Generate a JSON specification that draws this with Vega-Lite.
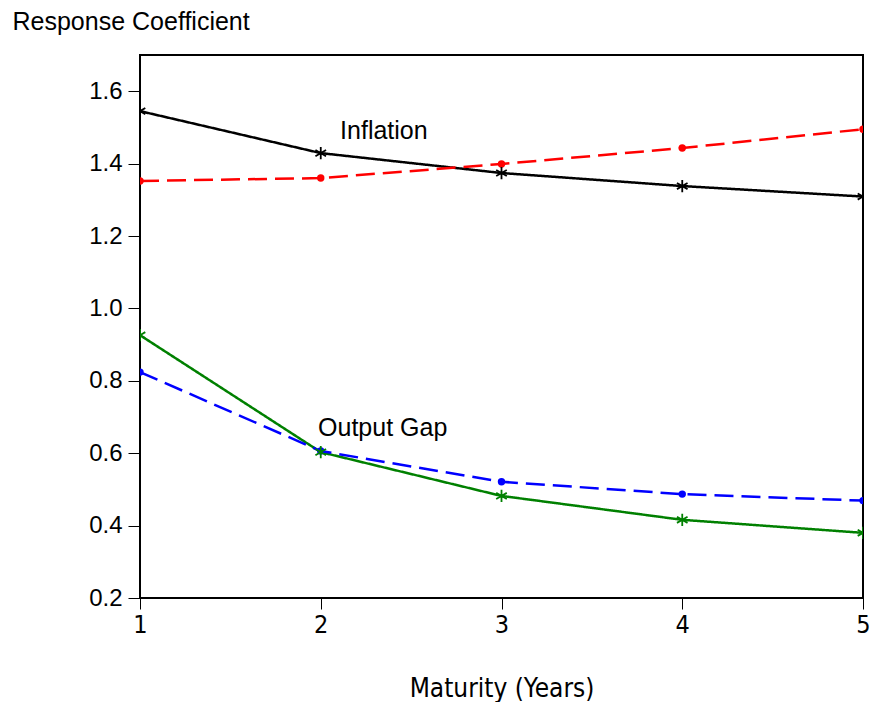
{
  "$schema": "https://vega.github.io/schema/vega-lite/v6.json",
  "width": 723,
  "height": 543,
  "autosize": {"type": "none"},
  "padding": {"left": 140, "top": 55, "right": 9, "bottom": 104},
  "background": "white",
  "config": {
    "view": {"stroke": "black", "strokeWidth": 2},
    "font": "Liberation Sans"
  },
  "datasets": {
    "series": [
      {"maturity": 1, "value": 1.545, "series": "Inflation A"},
      {"maturity": 2, "value": 1.429, "series": "Inflation A"},
      {"maturity": 3, "value": 1.374, "series": "Inflation A"},
      {"maturity": 4, "value": 1.338, "series": "Inflation A"},
      {"maturity": 5, "value": 1.309, "series": "Inflation A"},
      {"maturity": 1, "value": 1.352, "series": "Inflation B"},
      {"maturity": 2, "value": 1.360, "series": "Inflation B"},
      {"maturity": 3, "value": 1.399, "series": "Inflation B"},
      {"maturity": 4, "value": 1.443, "series": "Inflation B"},
      {"maturity": 5, "value": 1.495, "series": "Inflation B"},
      {"maturity": 1, "value": 0.926, "series": "Output Gap A"},
      {"maturity": 2, "value": 0.603, "series": "Output Gap A"},
      {"maturity": 3, "value": 0.482, "series": "Output Gap A"},
      {"maturity": 4, "value": 0.416, "series": "Output Gap A"},
      {"maturity": 5, "value": 0.380, "series": "Output Gap A"},
      {"maturity": 1, "value": 0.824, "series": "Output Gap B"},
      {"maturity": 2, "value": 0.606, "series": "Output Gap B"},
      {"maturity": 3, "value": 0.521, "series": "Output Gap B"},
      {"maturity": 4, "value": 0.487, "series": "Output Gap B"},
      {"maturity": 5, "value": 0.469, "series": "Output Gap B"}
    ],
    "labels": [
      {"maturity": 2.107, "value": 1.49, "label": "Inflation"},
      {"maturity": 1.985, "value": 0.669, "label": "Output Gap"}
    ]
  },
  "encoding": {
    "x": {
      "field": "maturity",
      "type": "quantitative",
      "scale": {"domain": [1, 5], "nice": false, "zero": false},
      "axis": {
        "title": "Maturity (Years)",
        "values": [1, 2, 3, 4, 5],
        "grid": false,
        "domain": false,
        "tickColor": "black",
        "tickSize": 11,
        "tickWidth": 1,
        "labelFont": "DejaVu Sans Condensed",
        "labelFontSize": 25,
        "labelColor": "black",
        "labelPadding": 3,
        "labelFlush": false,
        "titleFont": "DejaVu Sans Condensed",
        "titleFontSize": 26,
        "titleFontWeight": "normal",
        "titleColor": "black",
        "titleBaseline": "middle",
        "titleY": 90
      }
    },
    "y": {
      "field": "value",
      "type": "quantitative",
      "scale": {"domain": [0.2, 1.7], "nice": false, "zero": false},
      "axis": {
        "title": "Response Coefficient",
        "values": [0.2, 0.4, 0.6, 0.8, 1.0, 1.2, 1.4, 1.6],
        "format": ".1f",
        "grid": false,
        "domain": false,
        "tickColor": "black",
        "tickSize": 12,
        "tickWidth": 1,
        "labelFont": "Liberation Sans",
        "labelFontSize": 24,
        "labelColor": "black",
        "labelPadding": 6,
        "labelFlush": false,
        "titleFont": "Liberation Sans",
        "titleFontSize": 25,
        "titleFontWeight": "normal",
        "titleColor": "black",
        "titleAngle": 0,
        "titleAlign": "left",
        "titleBaseline": "middle",
        "titleX": -128,
        "titleY": -34
      }
    }
  },
  "layer": [
    {
      "data": {"name": "series"},
      "mark": {"type": "line", "strokeWidth": 2.5, "clip": true},
      "encoding": {
        "color": {
          "field": "series",
          "type": "nominal",
          "scale": {
            "domain": ["Inflation A", "Inflation B", "Output Gap A", "Output Gap B"],
            "range": ["#000000", "#ff0000", "#008000", "#0000ff"]
          },
          "legend": null
        },
        "strokeDash": {
          "field": "series",
          "type": "nominal",
          "scale": {
            "domain": ["Inflation A", "Inflation B", "Output Gap A", "Output Gap B"],
            "range": [[1, 0], [19, 8], [1, 0], [19, 8]]
          },
          "legend": null
        }
      }
    },
    {
      "data": {"name": "series"},
      "transform": [{"filter": "datum.series == 'Inflation B' || datum.series == 'Output Gap B'"}],
      "mark": {"type": "point", "shape": "circle", "filled": true, "size": 55, "opacity": 1, "clip": true},
      "encoding": {
        "color": {
          "field": "series",
          "type": "nominal",
          "scale": {
            "domain": ["Inflation A", "Inflation B", "Output Gap A", "Output Gap B"],
            "range": ["#000000", "#ff0000", "#008000", "#0000ff"]
          },
          "legend": null
        }
      }
    },
    {
      "data": {"name": "series"},
      "transform": [{"filter": "datum.series == 'Inflation A' || datum.series == 'Output Gap A'"}],
      "mark": {
        "type": "point",
        "shape": "M0,-1L0,1M-0.866,-0.5L0.866,0.5M-0.866,0.5L0.866,-0.5",
        "filled": false,
        "size": 150,
        "strokeWidth": 1.8,
        "opacity": 1,
        "clip": true
      },
      "encoding": {
        "color": {
          "field": "series",
          "type": "nominal",
          "scale": {
            "domain": ["Inflation A", "Inflation B", "Output Gap A", "Output Gap B"],
            "range": ["#000000", "#ff0000", "#008000", "#0000ff"]
          },
          "legend": null
        }
      }
    },
    {
      "data": {"name": "labels"},
      "mark": {"type": "text", "align": "left", "baseline": "middle", "font": "Liberation Sans", "fontSize": 25, "color": "black"},
      "encoding": {
        "text": {"field": "label", "type": "nominal"}
      }
    }
  ]
}
